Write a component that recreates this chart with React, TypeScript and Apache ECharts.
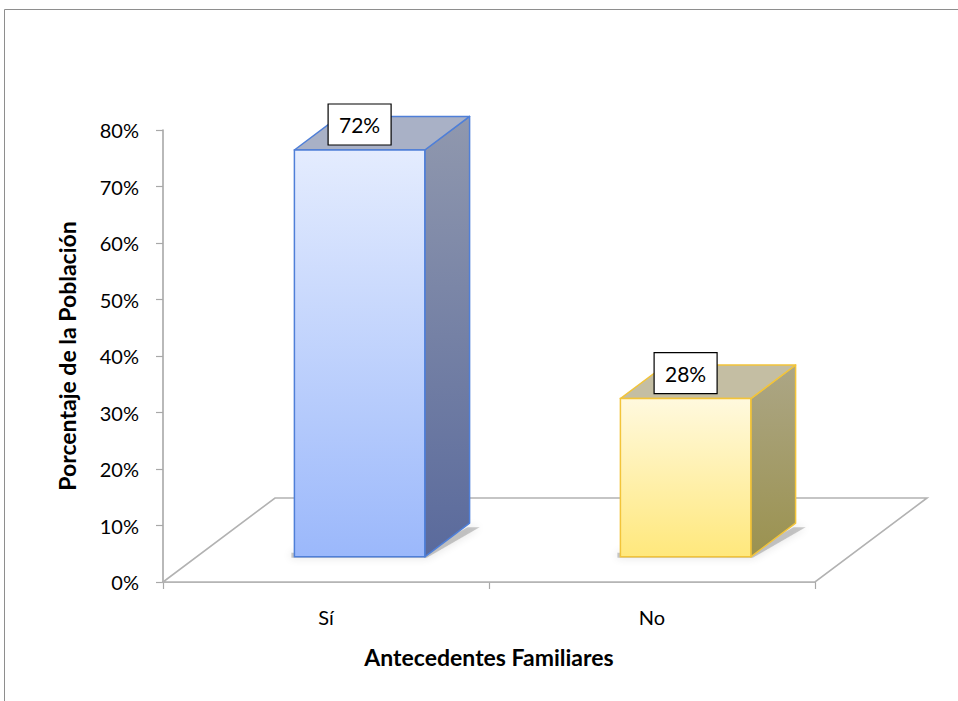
import React, { useEffect, useRef } from "react";
import * as echarts from "echarts";

// Family-history answers and the share of the population for each one
const categories = ["Sí", "No"];
const shares = [0.72, 0.28];

// Value axis range (fractions, shown as percentages)
const yMin = 0;
const yMax = 0.8;
const yStep = 0.1;

// Oblique 3D projection: depth vector of the floor, in pixels
const FLOOR_DX = 112;
const FLOOR_DY = 84;
// Bars sit in the middle of the depth and take 40% of each category band
const BAR_DEPTH_FROM = 0.3;
const BAR_DEPTH_TO = 0.7;
const BAR_WIDTH_RATIO = 0.4;

const FONT = "Lato, 'Open Sans', sans-serif";

const palettes = [
  {
    frontTop: "#e4ecfe",
    frontBottom: "#9bb8fb",
    sideTop: "#9098ae",
    sideBottom: "#5a6a9c",
    top: "#a9b1c6",
    edge: "#4f7fd8",
  },
  {
    frontTop: "#fff9de",
    frontBottom: "#ffe87c",
    sideTop: "#aca686",
    sideBottom: "#9b924f",
    top: "#c4bea3",
    edge: "#f2c43a",
  },
];

const pct = (v: number) => `${Math.round(v * 100)}%`;

export default function App() {
  const ref = useRef<HTMLDivElement>(null);

  useEffect(() => {
    if (!ref.current) return;
    const chart = echarts.init(ref.current, undefined, { renderer: "svg" });

    // White floor plane spanning every category band, at value 0
    const floorItem = (params: any, api: any) => {
      const p0 = api.coord([0, 0]);
      const band = api.size([1, 0])[0];
      const left = p0[0] - band / 2;
      const right = left + band * categories.length;
      const y0 = p0[1];
      return {
        type: "polygon",
        shape: {
          points: [
            [left, y0],
            [right, y0],
            [right + FLOOR_DX, y0 - FLOOR_DY],
            [left + FLOOR_DX, y0 - FLOOR_DY],
          ],
        },
        style: { fill: "#ffffff", stroke: "#b2b2b2", lineWidth: 1.6 },
      };
    };

    // One box per category: shadow, side face, top face, front face, value tag
    const barItem = (params: any, api: any) => {
      const i = api.value(0);
      const v = api.value(1);
      const pal = palettes[params.dataIndex % palettes.length];
      const base = api.coord([i, 0]);
      const topPt = api.coord([i, v]);
      const band = api.size([1, 0])[0];
      const w = band * BAR_WIDTH_RATIO;
      const cx = base[0] + FLOOR_DX * BAR_DEPTH_FROM;
      const yBottom = base[1] - FLOOR_DY * BAR_DEPTH_FROM;
      const yTop = topPt[1] - FLOOR_DY * BAR_DEPTH_FROM;
      const dx = FLOOR_DX * (BAR_DEPTH_TO - BAR_DEPTH_FROM);
      const dy = FLOOR_DY * (BAR_DEPTH_TO - BAR_DEPTH_FROM);
      const L = cx - w / 2;
      const R = cx + w / 2;

      const boxW = 63;
      const boxH = 41;
      const boxBottom = yTop - 5;

      return {
        type: "group",
        children: [
          {
            type: "polygon",
            shape: {
              points: [
                [L - 3, yBottom + 1],
                [R + 2, yBottom + 1],
                [R + dx + 10, yBottom - dy + 4],
                [R + dx - 2, yBottom - dy + 4],
                [R, yBottom - 6],
                [L - 3, yBottom - 4],
              ],
            },
            style: {
              fill: "rgba(70,70,70,0.28)",
              shadowBlur: 8,
              shadowColor: "rgba(0,0,0,0.45)",
            },
          },
          {
            type: "polygon",
            shape: {
              points: [
                [R, yTop],
                [R + dx, yTop - dy],
                [R + dx, yBottom - dy],
                [R, yBottom],
              ],
            },
            style: {
              fill: new echarts.graphic.LinearGradient(0, 0, 0, 1, [
                { offset: 0, color: pal.sideTop },
                { offset: 1, color: pal.sideBottom },
              ]),
              stroke: pal.edge,
              lineWidth: 1.5,
              lineJoin: "round",
            },
          },
          {
            type: "polygon",
            shape: {
              points: [
                [L, yTop],
                [R, yTop],
                [R + dx, yTop - dy],
                [L + dx, yTop - dy],
              ],
            },
            style: {
              fill: pal.top,
              stroke: pal.edge,
              lineWidth: 1.5,
              lineJoin: "round",
            },
          },
          {
            type: "rect",
            shape: { x: L, y: yTop, width: w, height: yBottom - yTop },
            style: {
              fill: new echarts.graphic.LinearGradient(0, 0, 0, 1, [
                { offset: 0, color: pal.frontTop },
                { offset: 1, color: pal.frontBottom },
              ]),
              stroke: pal.edge,
              lineWidth: 1.5,
            },
          },
          {
            type: "rect",
            shape: {
              x: cx - boxW / 2,
              y: boxBottom - boxH,
              width: boxW,
              height: boxH,
            },
            style: { fill: "#ffffff", stroke: "#000000", lineWidth: 1.2 },
          },
          {
            type: "text",
            x: cx,
            y: boxBottom - boxH / 2,
            style: {
              text: pct(v),
              fill: "#000000",
              font: `21px ${FONT}`,
              align: "center",
              verticalAlign: "middle",
            },
          },
        ],
      };
    };

    chart.setOption({
      animation: false,
      backgroundColor: "#ffffff",
      graphic: [
        {
          type: "line",
          shape: { x1: 4.5, y1: 9.5, x2: 958, y2: 9.5 },
          style: { stroke: "#8e8e8e", lineWidth: 1 },
        },
        {
          type: "line",
          shape: { x1: 4.5, y1: 9.5, x2: 4.5, y2: 701 },
          style: { stroke: "#8e8e8e", lineWidth: 1 },
        },
      ],
      grid: { left: 163, right: 143, top: 130, bottom: 119, containLabel: false },
      xAxis: {
        type: "category",
        data: categories,
        name: "Antecedentes Familiares",
        nameLocation: "middle",
        nameGap: 63,
        nameTextStyle: {
          fontFamily: FONT,
          fontWeight: "bold",
          fontSize: 23,
          color: "#000",
        },
        axisLine: { lineStyle: { color: "#a8a8a8", width: 1.6 } },
        axisTick: { show: true, length: 7, lineStyle: { color: "#a8a8a8", width: 1.2 } },
        axisLabel: { fontFamily: FONT, fontSize: 20, color: "#000", margin: 25 },
      },
      yAxis: {
        type: "value",
        min: yMin,
        max: yMax,
        interval: yStep,
        name: "Porcentaje de la Población",
        nameLocation: "middle",
        nameGap: 85,
        nameTextStyle: {
          fontFamily: FONT,
          fontWeight: "bold",
          fontSize: 23,
          color: "#000",
        },
        axisLine: { show: true, lineStyle: { color: "#a8a8a8", width: 1.6 } },
        axisTick: { show: true, length: 7, lineStyle: { color: "#a8a8a8", width: 1.2 } },
        splitLine: { show: false },
        axisLabel: {
          fontFamily: FONT,
          fontSize: 20,
          color: "#000",
          margin: 24,
          formatter: (v: number) => pct(v),
        },
      },
      series: [
        {
          type: "custom",
          renderItem: floorItem,
          data: [[0, 0]],
          silent: true,
          z: 1,
        },
        {
          type: "custom",
          renderItem: barItem,
          data: shares.map((v, i) => [i, v]),
          z: 3,
        },
      ],
    });

    return () => chart.dispose();
  }, []);

  return (
    <div
      ref={ref}
      style={{ position: "fixed", left: 0, top: 0, width: 958, height: 701 }}
    />
  );
}
